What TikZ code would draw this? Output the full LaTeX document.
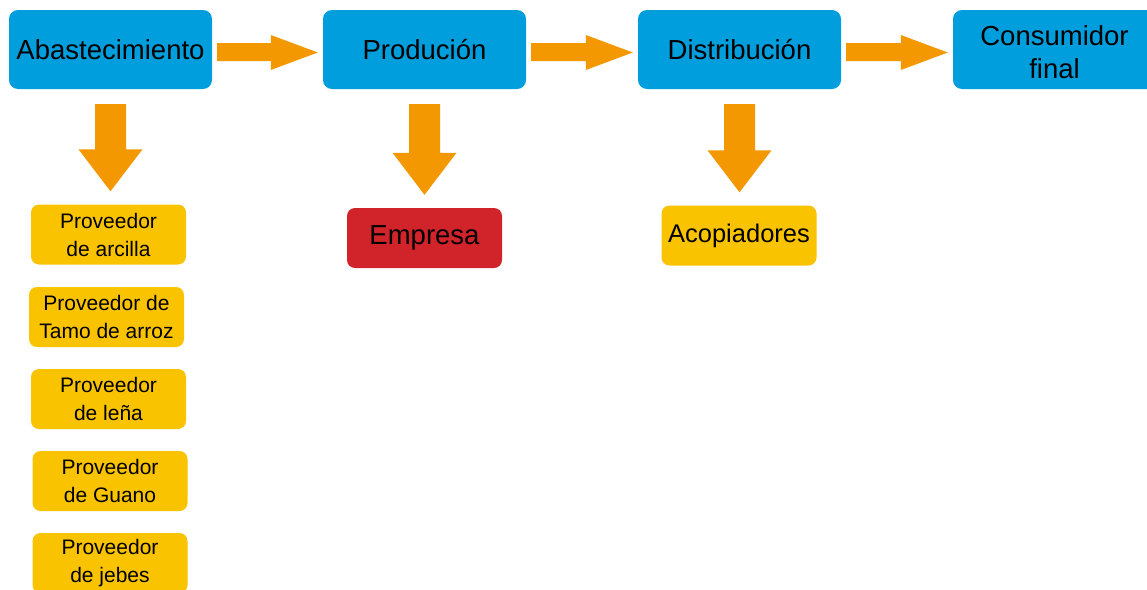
\documentclass[tikz,border=0pt]{standalone}
\usepackage{fontspec}
\setmainfont{Liberation Sans}
\usetikzlibrary{calc}
\definecolor{stageblue}{RGB}{0,158,220}
\definecolor{floworange}{RGB}{243,152,0}
\definecolor{supplieryellow}{RGB}{250,195,0}
\definecolor{firmred}{RGB}{208,35,42}
\tikzset{
    stage/.style={fill=stageblue, rounded corners=9pt, minimum width=203pt, minimum height=79pt,
        inner sep=0pt, align=center, font=\fontsize{27.5}{33}\selectfont},
    supplier/.style={fill=supplieryellow, rounded corners=8pt, minimum width=155pt, minimum height=60pt,
        inner sep=0pt, align=center, font=\fontsize{21}{28}\selectfont},
    firm/.style={supplier, fill=firmred, font=\fontsize{27.5}{33}\selectfont},
    flow/.style={fill=floworange},
}
\begin{document}
\begin{tikzpicture}[x=1pt, y=-1pt]
    \useasboundingbox (0,0) rectangle (1147,589);
    % fat arrows between two nodes
    \def\hflow#1#2{%
        \fill[flow] ($(#1.east)+(5,-6.5)$) -- ($(#2.west)+(-52,-6.5)$) -- ($(#2.west)+(-52,-14.5)$)
            -- ($(#2.west)+(-5,3)$) -- ($(#2.west)+(-52,20.5)$) -- ($(#2.west)+(-52,11.5)$)
            -- ($(#1.east)+(5,11.5)$) -- cycle;}
    \def\vflow#1#2{%
        \fill[flow] ($(#1.south)+(-15.5,15)$) -- ($(#1.south |- #2.north)+(-15.5,-55)$)
            -- ($(#1.south |- #2.north)+(-32,-55)$) -- ($(#1.south |- #2.north)+(0,-13)$)
            -- ($(#1.south |- #2.north)+(32,-55)$) -- ($(#1.south |- #2.north)+(15.5,-55)$)
            -- ($(#1.south)+(15.5,15)$) -- cycle;}
    % stages of the chain
    \node[stage] (abast) at (110.5,49.5) {Abastecimiento};
    \node[stage] (produ) at (424.5,49.5) {Produción};
    \node[stage] (distri) at (739.5,49.5) {Distribución};
    \node[stage] (consu) at (1054.5,49.5) {\rule{0pt}{26pt}Consumidor\\final};
    % suppliers
    \node[supplier] (prov1) at (108.5,234.5) {Proveedor\\de arcilla};
    \node[supplier] (prov2) at (106.5,317) {Proveedor de\\Tamo de arroz};
    \node[supplier] (prov3) at (108.5,399) {Proveedor\\de leña};
    \node[supplier] (prov4) at (110,481) {Proveedor\\de Guano};
    \node[supplier] (prov5) at (110,563) {Proveedor\\de jebes};
    \node[firm] (empresa) at (424.5,238) {Empresa};
    \node[supplier, font=\fontsize{25.5}{30}\selectfont] (acopi) at (739,235.5) {Acopiadores};
    % arrows
    \hflow{abast}{produ}
    \hflow{produ}{distri}
    \hflow{distri}{consu}
    \vflow{abast}{prov1}
    \vflow{produ}{empresa}
    \vflow{distri}{acopi}
\end{tikzpicture}
\end{document}
